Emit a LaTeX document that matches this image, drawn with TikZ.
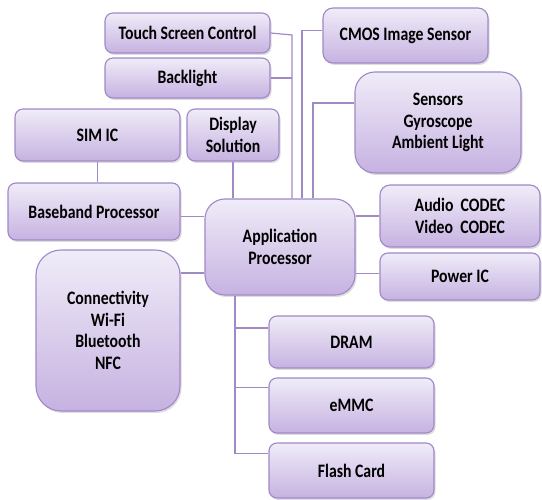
\documentclass[tikz,border=0pt]{standalone}
\usepackage{fontspec}
\newfontfamily\boxfont{Carlito}[FakeStretch=0.83]
\usetikzlibrary{shadows,calc}
\definecolor{boxtop}{HTML}{F0ECF8}
\definecolor{boxbot}{HTML}{C6B2E1}
\definecolor{boxline}{HTML}{A088C8}
\definecolor{wire}{HTML}{A08AC6}
\tikzset{
  block/.style={draw=boxline, line width=1.1pt, rounded corners=8pt,
    top color=boxtop, bottom color=boxbot,
    drop shadow={shadow xshift=1.5pt, shadow yshift=-2pt, opacity=0.22, fill=black!60},
    align=center, inner sep=2pt, text=black,
    font=\boxfont\bfseries\fontsize{19}{21.5}\selectfont},
  wired/.style={draw=wire, line width=1.2pt},
}
\begin{document}
\begin{tikzpicture}[x=1pt,y=-1pt]
\useasboundingbox (0,0) rectangle (542,500);

% peripheral blocks
\node[block, minimum width=165pt, minimum height=40pt] (touch) at (187.5,33) {Touch Screen Control};
\node[block, minimum width=165pt, minimum height=40pt] (back) at (187.5,78) {Backlight};
\node[block, minimum width=165pt, minimum height=55pt, rounded corners=10pt] (cmos) at (405.5,35.5) {CMOS Image Sensor};
\node[block, minimum width=165pt, minimum height=52pt] (sim) at (97.5,135) {SIM IC};
\node[block, minimum width=92pt, minimum height=52pt] (disp) at (233,135) {Display\\Solution};
\node[block, minimum width=166pt, minimum height=101pt, rounded corners=20pt] (sens) at (438,122.5) {Sensors\\Gyroscope\\Ambient Light};
\node[block, minimum width=172pt, minimum height=57pt] (base) at (94,211.5) {Baseband Processor};
\node[block, minimum width=150pt, minimum height=96pt, rounded corners=20pt] (ap) at (280,247) {Application\\Processor};
\node[block, minimum width=160pt, minimum height=62pt, rounded corners=10pt] (codec) at (460,216) {Audio~~CODEC\\Video~~CODEC};
\node[block, minimum width=160pt, minimum height=47pt] (power) at (460,276.5) {Power IC};
\node[block, minimum width=144pt, minimum height=161pt, rounded corners=25pt] (conn) at (108,330.5) {Connectivity\\Wi-Fi\\Bluetooth\\NFC};
\node[block, minimum width=165pt, minimum height=52pt] (dram) at (351.5,342) {DRAM};
\node[block, minimum width=165pt, minimum height=55pt] (emmc) at (351.5,405.5) {eMMC};
\node[block, minimum width=165pt, minimum height=55pt] (flash) at (351.5,470.5) {Flash Card};

% junction points on the application processor
\coordinate (tj) at ([xshift=12pt]ap.north);
\coordinate (tbend) at (tj |- 0,35);
\coordinate (cj) at ([xshift=22pt]ap.north);
\coordinate (sj) at ([xshift=33pt]ap.north);
\coordinate (cmosw) at ([yshift=5pt]cmos.west);
\coordinate (sensw) at ([yshift=19.5pt]sens.west);
\coordinate (basee) at ([yshift=-5pt]base.east);
\coordinate (apconn) at ([yshift=-26pt]ap.west);
\coordinate (powerw) at ([yshift=3pt]power.west);
\coordinate (bus) at ([xshift=-45pt]ap.south);
\coordinate (dramw) at ([yshift=14pt]dram.west);
\coordinate (emmcw) at ([yshift=18pt]emmc.west);
\coordinate (flashw) at ([yshift=17pt]flash.west);

% connectors
\draw[wired] (touch.east) -- (tbend) -- (tj);
\draw[wired] (back.east) -- (back.east -| tj);
\draw[wired] (cmosw) -| (cj);
\draw[wired] (sensw) -| (sj);
\draw[wired] (disp.south) -- (disp.south |- ap.north);
\draw[wired] (sim.south) -- (sim.south |- base.north);
\draw[wired] (basee) -- (basee -| ap.west);
\draw[wired] (apconn) -- (apconn -| conn.east);
\draw[wired] (codec.west) -- (codec.west -| ap.east);
\draw[wired] (powerw) -- (powerw -| ap.east);
\draw[wired] (bus) |- (flashw);
\draw[wired] (dramw) -- (dramw -| bus);
\draw[wired] (emmcw) -- (emmcw -| bus);
\end{tikzpicture}
\end{document}
